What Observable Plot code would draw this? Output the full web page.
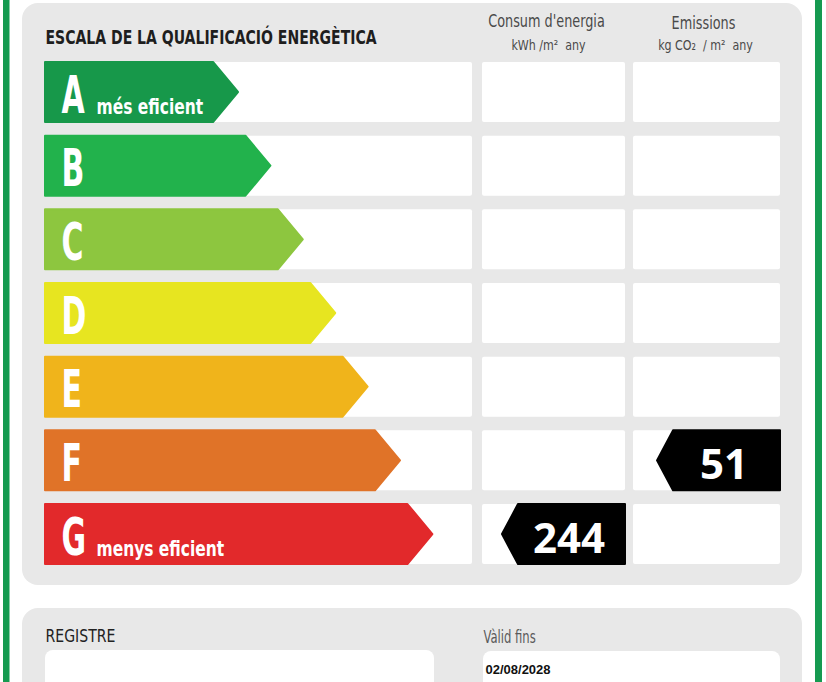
<!DOCTYPE html>
<html>
<head>
<meta charset="utf-8">
<script src="https://cdn.jsdelivr.net/npm/d3@7"></script>
<script src="https://cdn.jsdelivr.net/npm/@observablehq/plot@0.6"></script>
<style>
  html, body { margin: 0; padding: 0; background: #fff; overflow: hidden; }
</style>
</head>
<body>
<div id="chart"></div>
<script>
// ---- data ----
const title = "ESCALA DE LA QUALIFICACIÓ ENERGÈTICA";
const classes = ["A", "B", "C", "D", "E", "F", "G"];
const classColors = ["#17984a", "#22b24c", "#8dc63f", "#e7e520", "#f0b41b", "#e07328", "#e2292b"];
const classNotes = ["més eficient", "", "", "", "", "", "menys eficient"];
const columnTitles = ["Consum d'energia", "Emissions"];
const columnUnits = ["kWh /m²  any", "kg CO₂  / m²  any"];
const consumClass = "G";
const consumValue = 244;
const emissionsClass = "F";
const emissionsValue = 51;
const registreLabel = "REGISTRE";
const validLabel = "Vàlid fins";
const validDate = "02/08/2028";

// ---- layout (pixels) ----
const W = 826, H = 682;
const rowTop0 = 62, rowPitch = 73.67, rowH = 60;
const barX0 = 45, tip0 = 238, tipStep = 32.4, head = 25;
const cols = [[45, 472], [482, 625], [633, 780]];
const rowTop = i => rowTop0 + i * rowPitch;
const narrow = "'Liberation Sans Narrow', 'DejaVu Sans Condensed', 'Arial Narrow', sans-serif";
const gray = "#e8e8e8";
const green = "#159a50";

const panels = [
  {x1: 22, x2: 802, y1: 3, y2: 585, fill: gray},
  {x1: 22, x2: 802, y1: 608, y2: 720, fill: gray}
];
const stripes = [
  {x1: 3, x2: 9.5, y1: 0, y2: H, fill: green},
  {x1: 815, x2: 822, y1: 0, y2: H, fill: green}
];
const boxes = [
  {x1: 45, x2: 434, y1: 650, y2: 720, fill: "#fff"},
  {x1: 483, x2: 780, y1: 651, y2: 720, fill: "#fff"}
];

const cells = [];
classes.forEach((c, i) => cols.forEach(([a, b]) => cells.push({x1: a, x2: b, y1: rowTop(i), y2: rowTop(i) + rowH, fill: "#fff"})));

const arrows = [];
classes.forEach((c, i) => {
  const t = rowTop(i), tip = tip0 + i * tipStep;
  arrows.push({cls: c, y: t, x1: barX0, x2: tip - head, color: classColors[i]});
  arrows.push({cls: c, y: t + rowH / 2, x1: barX0, x2: tip, color: classColors[i]});
  arrows.push({cls: c, y: t + rowH, x1: barX0, x2: tip - head, color: classColors[i]});
});

const tagDefs = [
  {cls: consumClass, value: consumValue, col: 1},
  {cls: emissionsClass, value: emissionsValue, col: 2}
];
const tags = [], tagTexts = [];
tagDefs.forEach(d => {
  const i = classes.indexOf(d.cls), t = rowTop(i);
  const right = cols[d.col][1];
  const left = right - 123, shoulder = left + 16;
  tags.push({k: d.col, y: t, x1: shoulder, x2: right});
  tags.push({k: d.col, y: t + rowH / 2, x1: left, x2: right});
  tags.push({k: d.col, y: t + rowH, x1: shoulder, x2: right});
  tagTexts.push({x: (shoulder + right) / 2 - 3, y: t + 48, text: String(d.value)});
});

const letters = classes.map((c, i) => ({x: 61, y: rowTop(i) + 50, text: c}));
const notes = classes.map((c, i) => ({x: 96, y: rowTop(i) + 51, text: classNotes[i]})).filter(d => d.text);

// horizontal condensing per text mark (in mark order)
const textScales = [0.78, 0.84, 0.88, 0.64, 0.82, 1, 0.92, 0.76, 1];

const chart = Plot.plot({
  width: W, height: H, margin: 0,
  x: {type: "linear", domain: [0, W], range: [0, W], axis: null},
  y: {type: "linear", domain: [0, H], range: [0, H], axis: null},
  color: {type: "identity"},
  style: {background: "#fff", overflow: "hidden"},
  marks: [
    Plot.rect(stripes, {x1: "x1", x2: "x2", y1: "y1", y2: "y2", fill: "fill"}),
    Plot.rect(panels, {x1: "x1", x2: "x2", y1: "y1", y2: "y2", fill: "fill", rx: 16}),
    Plot.rect(cells, {x1: "x1", x2: "x2", y1: "y1", y2: "y2", fill: "fill", rx: 2}),
    Plot.rect(boxes, {x1: "x1", x2: "x2", y1: "y1", y2: "y2", fill: "fill", rx: 8}),
    Plot.areaX(arrows, {y: "y", x1: "x1", x2: "x2", z: "cls", fill: "color", stroke: "color", strokeWidth: 2, strokeLinejoin: "round", curve: "linear"}),
    Plot.areaX(tags, {y: "y", x1: "x1", x2: "x2", z: "k", fill: "#000", stroke: "#000", strokeWidth: 2, strokeLinejoin: "round", curve: "linear"}),
    Plot.text([title], {x: 45, y: 43, text: d => d, textAnchor: "start", lineAnchor: "bottom", fontFamily: narrow, fontWeight: "bold", fontSize: 20, fill: "#1e1e1e"}),
    Plot.text(columnTitles, {x: (d, i) => [546, 703][i], y: (d, i) => [26, 28][i], text: d => d, textAnchor: "middle", lineAnchor: "bottom", fontFamily: narrow, fontSize: 17, fill: "#4a4a4a"}),
    Plot.text(columnUnits, {x: (d, i) => [548, 705][i], y: 49, text: d => d, textAnchor: "middle", lineAnchor: "bottom", fontFamily: narrow, fontSize: 14, fill: "#4a4a4a"}),
    Plot.text(letters, {x: "x", y: "y", text: "text", textAnchor: "start", lineAnchor: "bottom", fontFamily: narrow, fontWeight: "bold", fontSize: 52, fill: "#fff"}),
    Plot.text(notes, {x: "x", y: "y", text: "text", textAnchor: "start", lineAnchor: "bottom", fontFamily: narrow, fontWeight: "bold", fontSize: 21, fill: "#fff"}),
    Plot.text(tagTexts, {x: "x", y: "y", text: "text", textAnchor: "middle", lineAnchor: "bottom", fontFamily: "'Open Sans', sans-serif", fontWeight: "bold", fontSize: 42, fill: "#fff"}),
    Plot.text([registreLabel], {x: 45, y: 641, text: d => d, textAnchor: "start", lineAnchor: "bottom", fontFamily: narrow, fontSize: 17, fill: "#222"}),
    Plot.text([validLabel], {x: 483, y: 642, text: d => d, textAnchor: "start", lineAnchor: "bottom", fontFamily: narrow, fontSize: 17, fill: "#5a5a5a"}),
    Plot.text([validDate], {x: 485, y: 673, text: d => d, textAnchor: "start", lineAnchor: "bottom", fontFamily: "'Liberation Sans', Arial, sans-serif", fontWeight: "bold", fontSize: 13, fill: "#111"})
  ]
});

// condense text horizontally around each anchor
const textGroups = chart.querySelectorAll("g[aria-label='text']");
textGroups.forEach((g, gi) => {
  const s = textScales[gi] ?? 1;
  if (s === 1) return;
  g.querySelectorAll("text").forEach(t => {
    const tr = t.getAttribute("transform");
    if (tr && /translate/.test(tr)) {
      t.setAttribute("transform", tr + ` scale(${s},1)`);
    } else {
      const x = +(t.getAttribute("x") || 0), y = +(t.getAttribute("y") || 0);
      t.removeAttribute("x"); t.removeAttribute("y");
      t.setAttribute("transform", `translate(${x},${y}) ${tr || ""} scale(${s},1)`);
    }
  });
});
document.getElementById("chart").appendChild(chart);
</script>
</body>
</html>
